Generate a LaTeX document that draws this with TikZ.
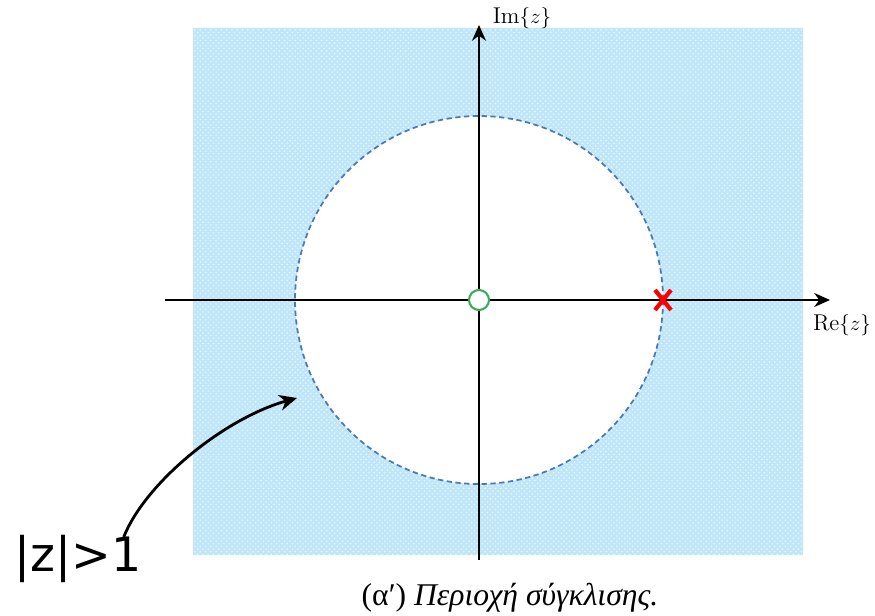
\documentclass[tikz,border=0pt]{standalone}
\usepackage{fontspec}
\usepackage{tikz}
\usetikzlibrary{arrows.meta,positioning,patterns}
\newfontfamily\greekfont{Liberation Serif}
\newfontfamily\handfont{DejaVu Sans}
\definecolor{roc}{HTML}{BFE6F8}
\definecolor{unitc}{HTML}{4A7AB5}
\definecolor{zerog}{HTML}{3AAA5A}

\begin{document}
\begin{tikzpicture}[x=0.02cm,y=-0.02cm,
  axis/.style={line width=1.1pt,-{Stealth[length=9pt,width=8pt]}},
  axlabel/.style={font=\fontsize{13}{15}\selectfont},
  zeromark/.style={draw=zerog,circle,line width=1.2pt,fill=white,minimum size=0.4cm,inner sep=0pt},
  polemark/.style={red,line width=2.4pt},
  handarrow/.style={line width=1.6pt,-{Stealth[length=10pt,width=9pt]}}]
\useasboundingbox (0,0) rectangle (875,615);

% region of convergence
\coordinate (O) at (479,300);
\fill[roc,even odd rule] (193,28) rectangle (803,555) (O) circle[radius=184];
\fill[pattern=crosshatch dots,pattern color=white!70!roc,even odd rule] (193,28) rectangle (803,555) (O) circle[radius=184];
\draw[unitc,line width=1pt,dash pattern=on 3pt off 2pt] (O) circle[radius=184];

% axes
\coordinate (xs) at (165,300);
\coordinate (xe) at (830,300);
\coordinate (ys) at (479,560);
\coordinate (ye) at (479,25);
\draw[axis] (xs) -- (xe);
\draw[axis] (ys) -- (ye);
\node[axlabel] (re) at (842,325) {Re$\{z\}$};
\node[axlabel] (im) at (522,18) {Im$\{z\}$};

% zero and pole
\node[zeromark] (zero) at (O) {};
\coordinate (pole) at (663,300);
\draw[polemark] ([shift={(-8,-10)}]pole) -- ([shift={(8,10)}]pole);
\draw[polemark] ([shift={(-8,10)}]pole) -- ([shift={(8,-10)}]pole);

% hand note
\node[font=\handfont\fontsize{27}{29}\selectfont,inner sep=0pt] (hand) at (78,559) {|z|>1};
\coordinate (tip) at (297,398);
\draw[handarrow] ([shift={(-18,2)}]hand.north east) .. controls +(22,-55) and (225,418) .. (tip);

% caption
\node[font=\greekfont\fontsize{18}{20}\selectfont] (cap) at (510,598) {(α′) \itshape Περιοχή σύγκλισης.};
\end{tikzpicture}
\end{document}
